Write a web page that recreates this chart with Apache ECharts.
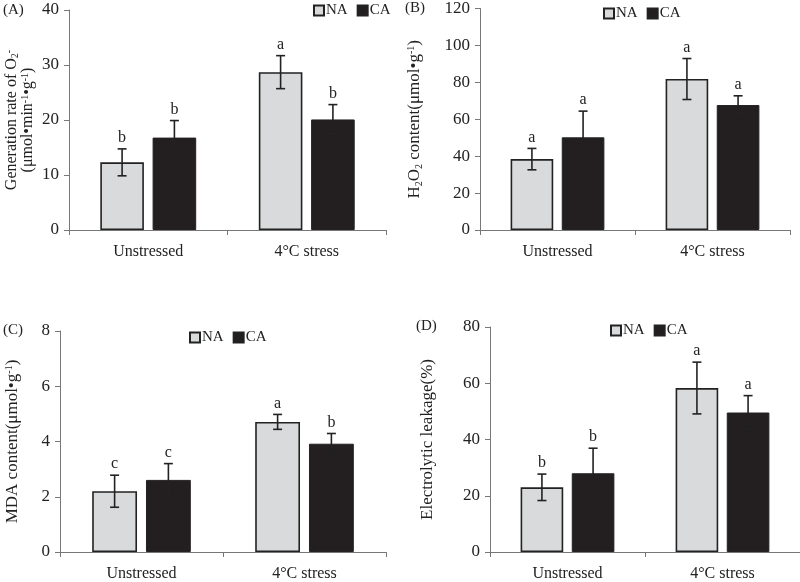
<!DOCTYPE html>
<html>
<head>
<meta charset="utf-8">
<script src="https://cdn.jsdelivr.net/npm/echarts@6/dist/echarts.min.js"></script>
<style>html,body{margin:0;padding:0;background:#fff;}#c{width:800px;height:582px;}</style>
</head>
<body>
<div id="c"></div>
<script>
const categories = ['Unstressed', '4°C stress'];
const seriesNames = ['NA', 'CA'];

// (A) O2- generation rate
const naA = [12.3, 28.7];
const caA = [16.8, 20.1];
const naAErr = [2.45, 3.0];
const caAErr = [3.1, 2.7];
const naALetters = ['b', 'a'];
const caALetters = ['b', 'b'];
const ticksA = { min: 0, max: 40, interval: 10 };

// (B) H2O2 content
const naB = [38.4, 81.8];
const caB = [50.2, 67.7];
const naBErr = [5.8, 11.1];
const caBErr = [14.2, 5.0];
const naBLetters = ['a', 'a'];
const caBLetters = ['a', 'a'];
const ticksB = { min: 0, max: 120, interval: 20 };

// (C) MDA content
const naC = [2.2, 4.71];
const caC = [2.61, 3.92];
const naCErr = [0.58, 0.27];
const caCErr = [0.59, 0.37];
const naCLetters = ['c', 'a'];
const caCLetters = ['c', 'b'];
const ticksC = { min: 0, max: 8, interval: 2 };

// (D) Electrolytic leakage
const naD = [23.0, 58.3];
const caD = [28.0, 49.6];
const naDErr = [4.7, 9.2];
const caDErr = [8.9, 6.0];
const naDLetters = ['b', 'a'];
const caDLetters = ['b', 'a'];
const ticksD = { min: 0, max: 80, interval: 20 };

const FONT = '"Liberation Serif", "Times New Roman", serif';
const BAR_W = 0.275, BAR_GAP = 0.2;
const NA_COLOR = '#d9dadb', CA_COLOR = '#231f20', EDGE = '#222';

const panels = [
  { tag: '(A)', na: naA, ca: caA, naE: naAErr, caE: caAErr, naL: naALetters, caL: caALetters, t: ticksA,
    grid: { left: 69, top: 10, width: 317, height: 220 },
    name: 'Generation rate of O{sub|2}{sup|-}\n(μmol•min{sup|-1}•g{sup|-1})', nameGap: 33, nameSize: 16, nameLH: 16,
    legend: { left: 313, top: 3 }, tagPos: [3, 3] },
  { tag: '(B)', na: naB, ca: caB, naE: naBErr, caE: caBErr, naL: naBLetters, caL: caBLetters, t: ticksB,
    grid: { left: 480, top: 8, width: 310, height: 222 },
    name: 'H{sub|2}O{sub|2} content(μmol•g{sup|-1})', nameGap: 56, nameSize: 17, nameLH: 18,
    legend: { left: 603, top: 6 }, tagPos: [405, 1] },
  { tag: '(C)', na: naC, ca: caC, naE: naCErr, caE: caCErr, naL: naCLetters, caL: caCLetters, t: ticksC,
    grid: { left: 60, top: 331, width: 326, height: 222 },
    name: 'MDA content(μmol•g{sup|-1})', nameGap: 38, nameSize: 17, nameLH: 18,
    legend: { left: 189, top: 330 }, tagPos: [3, 323] },
  { tag: '(D)', na: naD, ca: caD, naE: naDErr, caE: caDErr, naL: naDLetters, caL: caDLetters, t: ticksD,
    grid: { left: 490, top: 327, width: 310, height: 225 },
    name: 'Electrolytic leakage(%)', nameGap: 53, nameSize: 17, nameLH: 18,
    legend: { left: 610, top: 323 }, tagPos: [416, 319] }
];

function errRender(side, letters) {
  return function (params, api) {
    const ci = api.value(0), v = api.value(1), e = api.value(2);
    const c = api.coord([ci, v]);
    const cw = api.size([1, 0])[0];
    const bw = cw * BAR_W, gap = bw * BAR_GAP;
    const x = c[0] + side * (bw + gap) / 2;
    const top = api.coord([ci, v + e])[1];
    const bot = api.coord([ci, v - e])[1];
    const cap = 4.5;
    const st = { stroke: EDGE, lineWidth: 1.6 };
    return {
      type: 'group',
      children: [
        { type: 'line', shape: { x1: x, y1: top, x2: x, y2: bot }, style: st },
        { type: 'line', shape: { x1: x - cap, y1: top, x2: x + cap, y2: top }, style: st },
        { type: 'line', shape: { x1: x - cap, y1: bot, x2: x + cap, y2: bot }, style: st },
        { type: 'text', style: { text: letters[params.dataIndex], x: x, y: top - 3, align: 'center', verticalAlign: 'bottom',
          fontSize: 16, fontFamily: FONT, fill: '#222' } }
      ]
    };
  };
}

function richName(lh) {
  return {
    sub: { fontSize: 10, fontFamily: FONT, color: '#222', verticalAlign: 'bottom', lineHeight: lh },
    sup: { fontSize: 10, fontFamily: FONT, color: '#222', verticalAlign: 'top', lineHeight: lh }
  };
}

const option = {
  animation: false,
  backgroundColor: '#fff',
  grid: [], xAxis: [], yAxis: [], series: [], legend: [], graphic: []
};

panels.forEach((p, i) => {
  option.grid.push(Object.assign({ containLabel: false }, p.grid));
  option.xAxis.push({
    type: 'category', gridIndex: i, data: categories,
    axisLine: { lineStyle: { color: '#777', width: 1 } },
    axisTick: { show: true, length: 5, lineStyle: { color: '#777' } },
    axisLabel: { fontSize: 16, fontFamily: FONT, color: '#222', margin: 14 }
  });
  option.yAxis.push({
    type: 'value', gridIndex: i, min: p.t.min, max: p.t.max, interval: p.t.interval,
    splitLine: { show: false },
    axisLine: { show: true, lineStyle: { color: '#777', width: 1 } },
    axisTick: { show: true, length: 5, lineStyle: { color: '#777' } },
    axisLabel: { fontSize: 17, fontFamily: FONT, color: '#222', margin: 10 },
    name: p.name, nameLocation: 'middle', nameRotate: 90, nameGap: p.nameGap,
    nameTextStyle: { fontSize: p.nameSize, fontFamily: FONT, color: '#222', lineHeight: p.nameLH, rich: richName(p.nameLH) }
  });
  option.series.push({
    name: 'NA', type: 'bar', xAxisIndex: i, yAxisIndex: i, data: p.na,
    barWidth: (BAR_W * 100) + '%', barGap: (BAR_GAP * 100) + '%',
    itemStyle: { color: NA_COLOR, borderColor: EDGE, borderWidth: 1.6 }
  });
  option.series.push({
    name: 'CA', type: 'bar', xAxisIndex: i, yAxisIndex: i, data: p.ca,
    barWidth: (BAR_W * 100) + '%', barGap: (BAR_GAP * 100) + '%',
    itemStyle: { color: CA_COLOR, borderColor: EDGE, borderWidth: 1 }
  });
  option.series.push({
    name: 'errNA' + i, type: 'custom', xAxisIndex: i, yAxisIndex: i, z: 5,
    data: p.na.map((v, k) => [k, v, p.naE[k]]),
    renderItem: errRender(-1, p.naL)
  });
  option.series.push({
    name: 'errCA' + i, type: 'custom', xAxisIndex: i, yAxisIndex: i, z: 5,
    data: p.ca.map((v, k) => [k, v, p.caE[k]]),
    renderItem: errRender(1, p.caL)
  });
  option.legend.push({
    data: seriesNames, left: p.legend.left, top: p.legend.top, orient: 'horizontal',
    icon: 'rect', itemWidth: 10, itemHeight: 10, itemGap: 9, padding: 0,
    textStyle: { fontSize: 15, fontFamily: FONT, color: '#222', padding: [0, 0, 0, -3] }
  });
  option.graphic.push({
    type: 'text', left: p.tagPos[0], top: p.tagPos[1],
    style: { text: p.tag, fontSize: 15, fontFamily: FONT, fill: '#222' }
  });
});

const chart = echarts.init(document.getElementById('c'), null, { renderer: 'canvas' });
chart.setOption(option);
</script>
</body>
</html>
